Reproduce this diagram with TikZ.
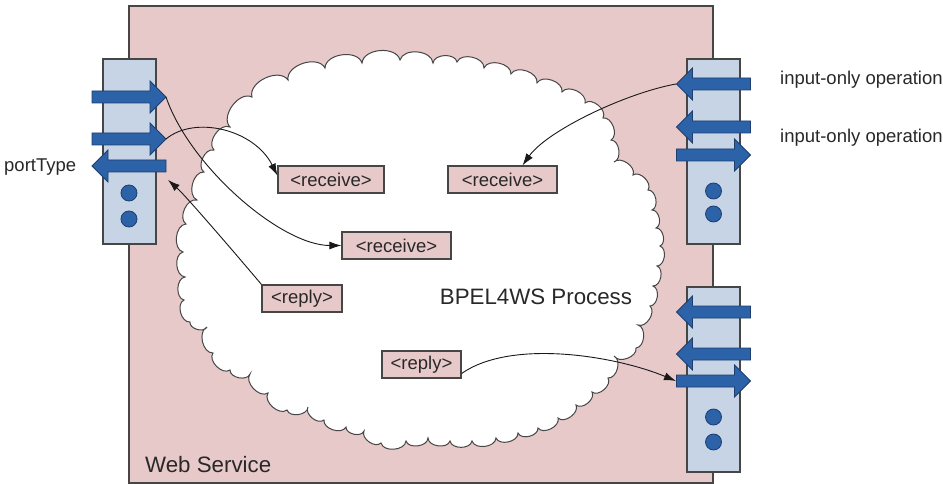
\documentclass[tikz,border=0pt]{standalone}
\usepackage{fontspec}
\setmainfont{Liberation Sans}
\usetikzlibrary{arrows.meta,calc}
\definecolor{wsbg}{RGB}{232,201,201}
\definecolor{portfill}{RGB}{198,212,229}
\definecolor{barblue}{RGB}{44,98,168}
\definecolor{baredge}{RGB}{30,62,110}
\definecolor{edgegray}{RGB}{70,70,70}
\definecolor{txtgray}{RGB}{40,40,40}
\tikzset{
  smalltxt/.style={font=\fontsize{18.5pt}{22pt}\selectfont, text=txtgray, inner sep=0pt},
  bigtxt/.style={font=\fontsize{22.3pt}{26pt}\selectfont, text=txtgray, inner sep=0pt},
  tagbox/.style={draw=edgegray, line width=1.2pt, fill=wsbg, minimum height=27pt, inner sep=0pt,
                 font=\fontsize{18.5pt}{22pt}\selectfont, text=txtgray},
  portbox/.style={draw=edgegray, line width=1.2pt, fill=portfill},
  barstyle/.style={fill=barblue, draw=baredge, line width=0.8pt},
  dotstyle/.style={fill=barblue, draw=baredge, line width=0.8pt},
  conn/.style={draw=black!90, line width=0.9pt, -{Latex[length=12pt,width=8pt]}},
  bump/.style={bend left=80},
  barrow/.pic={\path[barstyle] (-37,-6) -- (21,-6) -- (21,-16) -- (37,0) -- (21,16) -- (21,6) -- (-37,6) -- cycle;}
}
\begin{document}
\begin{tikzpicture}[x=1pt,y=-1pt]
\useasboundingbox (0,0) rectangle (943,484);
% web service
\draw[fill=wsbg, draw=edgegray, line width=1.3pt] (129,6) rectangle (713,483);
% cloud
\draw[fill=white, draw=edgegray, line width=1pt]
 (230,127) to[bump] (252,97) to[bump] (288,80) to[bump] (325,68)
 to[bump] (362,63) to[bump] (400,60) to[bump] (433,63)
 to[bump] (457,62) to[bump] (484,68) to[bump] (511,74)
 to[bump] (537,83) to[bump] (562,92) to[bump] (585,103)
 to[bump] (603,118) to[bump] (611,140) to[bump] (614,162)
 to[bump] (633,175) to[bump] (648,190) to[bump] (652,210)
 to[bump] (656,228) to[bump] (660,246) to[bump] (657,266)
 to[bump] (653,286) to[bump] (650,306) to[bump] (638,325)
 to[bump] (636,348) to[bump] (614,356) to[bump] (608,378)
 to[bump] (592,392) to[bump] (576,405) to[bump] (558,418)
 to[bump] (538,428) to[bump] (518,433) to[bump] (496,438)
 to[bump] (472,441) to[bump] (450,441) to[bump] (428,438)
 to[bump] (406,441) to[bump] (381,443) to[bump] (364,431)
 to[bump] (346,427) to[bump] (324,420) to[bump] (308,407)
 to[bump] (287,410) to[bump] (268,393) to[bump] (250,374)
 to[bump] (230,370) to[bump] (213,353) to[bump] (207,327)
 to[bump] (190,322) to[bump] (184,300) to[bump] (185,277)
 to[bump] (183,252) to[bump] (186,224) to[bump] (197,200)
 to[bump] (204,172) to[bump] (214,150) to[bump] (230,127) -- cycle;
% activity boxes
\node[tagbox, minimum width=106pt] (rcv1) at (331,179.5) {<receive>};
\node[tagbox, minimum width=109pt] (rcv2) at (502.5,179.5) {<receive>};
\node[tagbox, minimum width=109pt] (rcv3) at (396.5,245.5) {<receive>};
\node[tagbox, minimum width=80pt] (rep1) at (302,298.5) {<reply>};
\node[tagbox, minimum width=79pt] (rep2) at (421.5,364.5) {<reply>};
% labels
\node[bigtxt] (proc) at (536,297) {BPEL4WS Process};
\node[bigtxt, anchor=west] (ws) at (145,465) {Web Service};
\node[smalltxt, anchor=west] (pt) at (4,167) {portType};
\node[smalltxt, anchor=west] (io1) at (780,80) {input-only operation};
\node[smalltxt, anchor=west] (io2) at (780,138) {input-only operation};
% ports
\node[portbox, minimum width=53pt, minimum height=185pt, inner sep=0pt] (lport) at (129.5,151.5) {};
\node[portbox, minimum width=53pt, minimum height=185pt, inner sep=0pt] (rport1) at (713.5,151.5) {};
\node[portbox, minimum width=53pt, minimum height=185pt, inner sep=0pt] (rport2) at (713.5,379.5) {};
% left port bars
\pic at (129,97) {barrow};
\pic at (129,139) {barrow};
\pic[rotate=180] at (129,166) {barrow};
\node[circle, dotstyle, minimum size=16pt, inner sep=0pt] (ld1) at (129,193) {};
\node[circle, dotstyle, minimum size=16pt, inner sep=0pt] (ld2) at (129,219) {};
% right port 1 bars
\pic[rotate=180] at (713.5,84) {barrow};
\pic[rotate=180] at (713.5,127) {barrow};
\pic at (713.5,155) {barrow};
\node[circle, dotstyle, minimum size=16pt, inner sep=0pt] (rd1) at (713.5,191) {};
\node[circle, dotstyle, minimum size=16pt, inner sep=0pt] (rd2) at (713.5,214) {};
% right port 2 bars
\pic[rotate=180] at (713.5,312) {barrow};
\pic[rotate=180] at (713.5,354) {barrow};
\pic at (713.5,381) {barrow};
\node[circle, dotstyle, minimum size=16pt, inner sep=0pt] (rd3) at (713.5,417) {};
\node[circle, dotstyle, minimum size=16pt, inner sep=0pt] (rd4) at (713.5,442) {};
% connector end points
\coordinate (la1) at (166,97);
\coordinate (la2) at (166,139);
\coordinate (la3) at (168,180);
\coordinate (ra1) at (676,84);
\coordinate (rb3) at (676,381);
% connectors
\draw[conn] (la1) .. controls +(24,70) and +(-60,0) .. (rcv3.west);
\draw[conn] (la2) .. controls +(29,-24) and +(-23,-46) .. ($(rcv1.west)+(0,-4)$);
\draw[conn] (rep1.north west) .. controls +(-27,-32) and +(17,15) .. (la3);
\draw[conn] (ra1) .. controls +(-50,9) and +(25,-35) .. ($(rcv2.north)+(20,0)$);
\draw[conn] ($(rep2.east)+(0,9)$) .. controls +(50,-35) and +(-60,-25) .. (rb3);
\end{tikzpicture}
\end{document}
